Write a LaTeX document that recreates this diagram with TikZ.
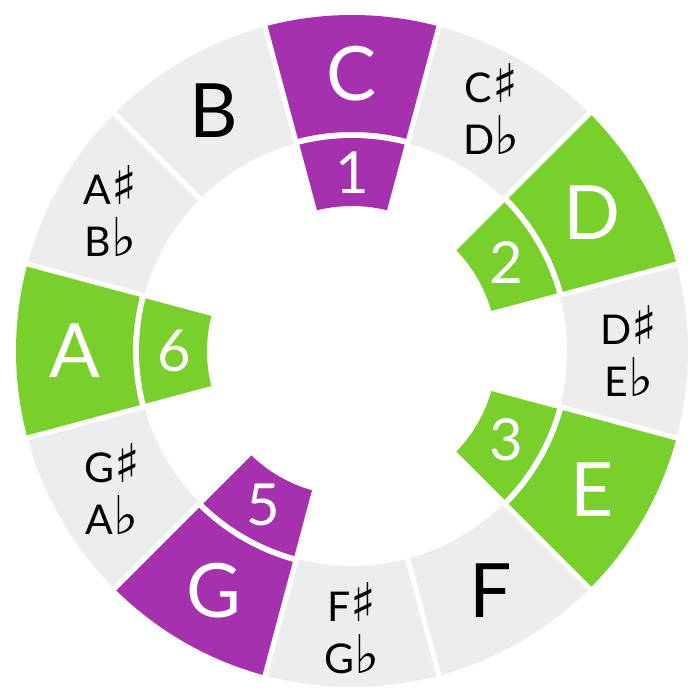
\documentclass[tikz,border=0pt]{standalone}
\usepackage{fontspec}
\setmainfont{Lato}
\newfontfamily\symfont[Scale=1.3]{DejaVu Sans}
\usepackage{xcolor}

\definecolor{notepurple}{HTML}{A631AF}
\definecolor{notegreen}{HTML}{79CF2B}
\definecolor{notegray}{HTML}{EDEDED}

% sharp and flat signs
\newcommand{\shp}{{\symfont ♯}}
\newcommand{\flt}{{\symfont ♭}}
% annular sector: angle, inner radius, outer radius, colour
\newcommand{\notesector}[4]{%
  \fill[#4] (#1-15:#2) -- (#1-15:#3) arc[start angle=#1-15, end angle=#1+15, radius=#3]
    -- (#1+15:#2) arc[start angle=#1+15, end angle=#1-15, radius=#2] -- cycle;}

\begin{document}
\begin{tikzpicture}[x=1pt, y=1pt,
    bigletter/.style={font=\fontsize{75}{75}\selectfont},
    twoline/.style={align=center, font=\fontsize{41}{52}\selectfont},
    numlabel/.style={font=\fontsize{58}{58}\selectfont, text=white}]
    \useasboundingbox (0,0) rectangle (700,700);
    \begin{scope}[shift={(352,349)}]
    % Define sectors
    \notesector{90}{219}{336}{notepurple}
    \notesector{60}{215}{336}{notegray}
    \notesector{30}{219}{336}{notegreen}
    \notesector{0}{215}{336}{notegray}
    \notesector{-30}{219}{336}{notegreen}
    \notesector{-60}{215}{336}{notegray}
    \notesector{-90}{215}{336}{notegray}
    \notesector{-120}{219}{336}{notepurple}
    \notesector{-150}{215}{336}{notegray}
    \notesector{180}{219}{336}{notegreen}
    \notesector{150}{215}{336}{notegray}
    \notesector{120}{215}{336}{notegray}
    % scale degrees
    \notesector{90}{145}{213}{notepurple}
    \notesector{30}{145}{213}{notegreen}
    \notesector{-30}{145}{213}{notegreen}
    \notesector{-120}{145}{213}{notepurple}
    \notesector{180}{145}{213}{notegreen}
    % white gaps
    \foreach \a in {15,45,...,345}
        \draw[white, line width=5] (\a:140) -- (\a:340);

    % Define nodes
    \node [bigletter, text=white] (c) at (90:277) {C};
    \node [twoline] (cs) at (60:279) {C\shp\\D\flt};
    \node [bigletter, text=white] (d) at (30:277) {D};
    \node [twoline] (ds) at (0:277) {D\shp\\E\flt};
    \node [bigletter, text=white] (e) at (-30:277) {E};
    \node [bigletter] (f) at (-60:277) {F};
    \node [twoline] (fs) at (-90:277) {F\shp\\G\flt};
    \node [bigletter, text=white] (g) at (-120:277) {G};
    \node [twoline] (gs) at (-150:277) {G\shp\\A\flt};
    \node [bigletter, text=white] (a) at (180:277) {A};
    \node [twoline] (as) at (150:279) {A\shp\\B\flt};
    \node [bigletter] (b) at (120:277) {B};

    \node [numlabel] (one) at (90:178) {1};
    \node [numlabel] (two) at (30:178) {2};
    \node [numlabel] (three) at (-30:178) {3};
    \node [numlabel] (five) at (-120:178) {5};
    \node [numlabel] (six) at (180:178) {6};
    \end{scope}
\end{tikzpicture}
\end{document}
